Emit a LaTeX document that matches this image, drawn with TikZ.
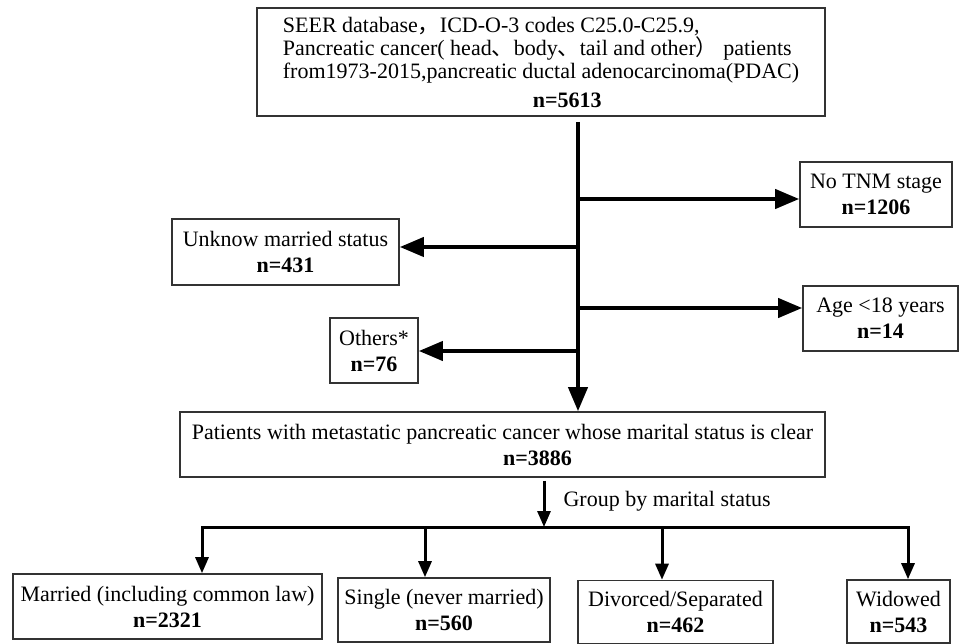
\documentclass[tikz,border=0pt]{standalone}
\usepackage{fontspec}
\setmainfont{Liberation Serif}
\newfontfamily\cjk{Noto Sans CJK SC}
\usetikzlibrary{arrows.meta}

\begin{document}
\begin{tikzpicture}[x=1pt,y=-1pt,
	flowbox/.style={draw=black!80,line width=1.6pt,inner sep=0pt,align=center,font=\fontsize{22}{26}\selectfont},
	bigarrow/.style={line width=4pt,-{Triangle[length=24pt,width=19pt]}},
	smallarrow/.style={line width=3pt,-{Triangle[length=16pt,width=13pt]}},
	busline/.style={line width=3pt,line cap=rect}]
	\useasboundingbox (0,0) rectangle (961,644);

	\node [flowbox,align=left,minimum width=568pt,minimum height=108pt,font=\fontsize{22}{23}\selectfont] (src) at (541,62) {SEER database{\cjk ，}ICD-O-3 codes C25.0-C25.9,\\Pancreatic cancer( head{\cjk 、}body{\cjk 、}tail and other{\cjk ）} patients\\from1973-2015,pancreatic ductal adenocarcinoma(PDAC)\\[6pt]\hspace*{250pt}\textbf{n=5613}};
	\node [flowbox,minimum width=152pt,minimum height=65pt] (notnm) at (876,194.5) {No TNM stage\\\textbf{n=1206}};
	\node [flowbox,minimum width=227pt,minimum height=66pt] (unknown) at (285.5,252) {Unknow married status\\\textbf{n=431}};
	\node [flowbox,minimum width=155pt,minimum height=65pt] (age) at (880.5,318.5) {Age <18 years\\\textbf{n=14}};
	\node [flowbox,minimum width=88pt,minimum height=65pt] (others) at (374,350.5) {Others*\\\textbf{n=76}};
	\node [flowbox,minimum width=645pt,minimum height=65pt] (pat) at (502.5,444.5) {Patients with metastatic pancreatic cancer whose marital status is clear\\\hspace*{70pt}\textbf{n=3886}};
	\node [anchor=west,font=\fontsize{22}{26}\selectfont] (grp) at (560,501) {Group by marital status};

	\node [flowbox,minimum width=309pt,minimum height=65pt] (married) at (167.5,606.5) {Married (including common law)\\\textbf{n=2321}};
	\node [flowbox,minimum width=212pt,minimum height=64pt] (single) at (444,610) {Single (never married)\\\textbf{n=560}};
	\node [flowbox,minimum width=195pt,minimum height=63pt] (divorced) at (675.5,612) {Divorced/Separated\\\textbf{n=462}};
	\node [flowbox,minimum width=103pt,minimum height=63pt] (widowed) at (898.5,611.5) {Widowed\\\textbf{n=543}};

	\coordinate (t0) at (578,122);
	\coordinate (b1) at (578,199);
	\coordinate (b2) at (578,247);
	\coordinate (b3) at (578,308);
	\coordinate (b4) at (578,351);
	\draw [bigarrow] (t0) -- (t0 |- pat.north);
	\draw [bigarrow] (b1) -- (b1 -| notnm.west);
	\draw [bigarrow] (b2) -- (b2 -| unknown.east);
	\draw [bigarrow] (b3) -- (b3 -| age.west);
	\draw [bigarrow] (b4) -- (b4 -| others.east);

	\coordinate (g0) at (544,527);
	\coordinate (m) at (202,527);
	\coordinate (s) at (425,527);
	\coordinate (d) at (662,527);
	\coordinate (w) at (908,527);
	\draw [smallarrow] ([yshift=-3pt]pat.south -| g0) -- (g0);
	\draw [busline] (m) -- (w);
	\foreach \c/\b in {m/married,s/single,d/divorced,w/widowed}
		\draw [smallarrow] (\c) -- (\c |- \b.north);
\end{tikzpicture}
\end{document}
